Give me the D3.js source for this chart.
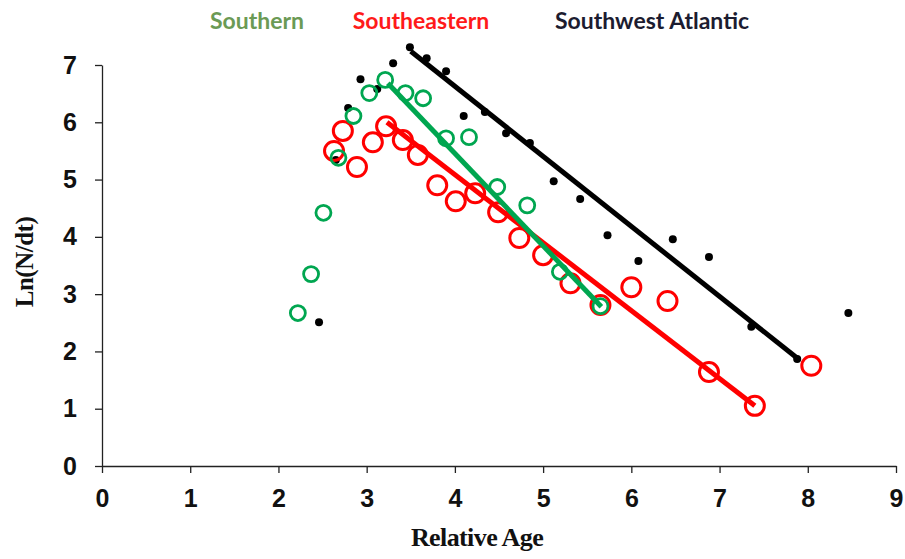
<!DOCTYPE html>
<html>
<head>
<meta charset="utf-8">
<script src="https://cdn.jsdelivr.net/npm/d3@7"></script>
<style>
  body { margin: 0; background: #fff; }
  svg { display: block; }
  .axis-title { font-family: "Liberation Serif", "Times New Roman", serif; font-weight: bold; fill: #111; }
  .legend { font-family: Lato, "Open Sans", sans-serif; font-weight: bold; font-size: 23px; }
</style>
</head>
<body>
<svg id="chart"></svg>
<script>
var width = 905,
  height = 559;

// Southern (green open circles)
var southernX = [2.22, 2.37, 2.51, 2.68, 2.85, 3.03, 3.21, 3.44, 3.64, 3.90, 4.16, 4.48, 4.82, 5.19, 5.65];
var southernY = [2.67, 3.35, 4.42, 5.38, 6.11, 6.51, 6.74, 6.51, 6.42, 5.72, 5.74, 4.87, 4.55, 3.39, 2.79];

// Southeastern (red open circles)
var southeastX = [2.63, 2.73, 2.89, 3.07, 3.22, 3.41, 3.58, 3.80, 4.01, 4.23, 4.49, 4.73, 5.00, 5.31, 5.65, 6.00, 6.41, 6.88, 7.40, 8.04];
var southeastY = [5.50, 5.85, 5.22, 5.65, 5.93, 5.69, 5.43, 4.90, 4.62, 4.76, 4.43, 3.98, 3.68, 3.19, 2.81, 3.12, 2.88, 1.64, 1.05, 1.75];

// Southwest Atlantic (black dots)
var swAtlX = [2.46, 2.65, 2.79, 2.93, 3.12, 3.30, 3.49, 3.68, 3.90, 4.10, 4.34, 4.58, 4.85, 5.12, 5.42, 5.73, 6.08, 6.47, 6.88, 7.36, 7.88, 8.46];
var swAtlY = [2.51, 5.34, 6.25, 6.75, 6.58, 7.03, 7.31, 7.12, 6.89, 6.11, 6.18, 5.81, 5.64, 4.97, 4.66, 4.03, 3.58, 3.96, 3.65, 2.43, 1.87, 2.67];

// fitted lines: [x1, y1, x2, y2]
var southernFit = [3.24, 6.68, 5.66, 2.78];
var southeastFit = [3.23, 6.00, 7.40, 1.05];
var swAtlFit = [3.50, 7.24, 7.90, 1.86];

var xTicks = [0, 1, 2, 3, 4, 5, 6, 7, 8, 9];
var yTicks = [0, 1, 2, 3, 4, 5, 6, 7];

var legendNames = ["Southern", "Southeastern", "Southwest Atlantic"];
var legendColors = ["#6b9a55", "#ff1a1a", "#1c1c30"];

var svg = d3.select("#chart")
  .attr("width", width)
  .attr("height", height);

var x = d3.scaleLinear().domain([0, 9]).range([102, 896]);
var y = d3.scaleLinear().domain([0, 7]).range([466, 65]);

// axes
var xAxis = svg.append("g")
  .attr("transform", "translate(0," + y(0) + ")")
  .call(d3.axisBottom(x).tickValues(xTicks).tickFormat(d3.format("d"))
    .tickSize(7).tickPadding(16).tickSizeOuter(0));
var yAxis = svg.append("g")
  .attr("transform", "translate(" + x(0) + ",0)")
  .call(d3.axisLeft(y).tickValues(yTicks).tickFormat(d3.format("d"))
    .tickSize(7).tickPadding(18).tickSizeOuter(0));

[xAxis, yAxis].forEach(function(a) {
  a.attr("font-family", "'Liberation Sans', Arial, sans-serif")
    .attr("font-size", 25)
    .attr("font-weight", "bold");
  a.select(".domain").attr("stroke", "#222").attr("stroke-width", 1.3);
  a.selectAll(".tick line").attr("stroke", "#222").attr("stroke-width", 1.3);
  a.selectAll(".tick text").attr("fill", "#111");
});

svg.append("text")
  .attr("class", "axis-title")
  .attr("x", 477)
  .attr("y", 546)
  .attr("text-anchor", "middle")
  .attr("font-size", 26)
  .attr("letter-spacing", -0.6)
  .text("Relative Age");

svg.append("text")
  .attr("class", "axis-title")
  .attr("transform", "translate(33,262) rotate(-90)")
  .attr("text-anchor", "middle")
  .attr("font-size", 25)
  .attr("letter-spacing", -0.5)
  .text("Ln(N/dt)");

// legend labels
var legendX = [257, 421, 652];
svg.selectAll(".legend")
  .data(legendNames)
  .enter().append("text")
  .attr("class", "legend")
  .attr("x", function(d, i) { return legendX[i]; })
  .attr("y", 29)
  .attr("text-anchor", "middle")
  .attr("fill", function(d, i) { return legendColors[i]; })
  .text(function(d) { return d; });

function zip(xs, ys) {
  return xs.map(function(v, i) { return { x: v, y: ys[i] }; });
}

function drawFit(f, colour) {
  svg.append("line")
    .attr("x1", x(f[0])).attr("y1", y(f[1]))
    .attr("x2", x(f[2])).attr("y2", y(f[3]))
    .attr("stroke", colour)
    .attr("stroke-width", 5);
}

// black dots
svg.append("g").selectAll("circle")
  .data(zip(swAtlX, swAtlY))
  .enter().append("circle")
  .attr("cx", function(d) { return x(d.x); })
  .attr("cy", function(d) { return y(d.y); })
  .attr("r", 4)
  .attr("fill", "#000");

drawFit(swAtlFit, "#000");

// red circles
svg.append("g").selectAll("circle")
  .data(zip(southeastX, southeastY))
  .enter().append("circle")
  .attr("cx", function(d) { return x(d.x); })
  .attr("cy", function(d) { return y(d.y); })
  .attr("r", 9.5)
  .attr("fill", "none")
  .attr("stroke", "#ff0000")
  .attr("stroke-width", 3);

drawFit(southeastFit, "#ff0000");

// green circles
svg.append("g").selectAll("circle")
  .data(zip(southernX, southernY))
  .enter().append("circle")
  .attr("cx", function(d) { return x(d.x); })
  .attr("cy", function(d) { return y(d.y); })
  .attr("r", 7.5)
  .attr("fill", "none")
  .attr("stroke", "#00a650")
  .attr("stroke-width", 2.8);

drawFit(southernFit, "#00a650");
</script>
</body>
</html>
